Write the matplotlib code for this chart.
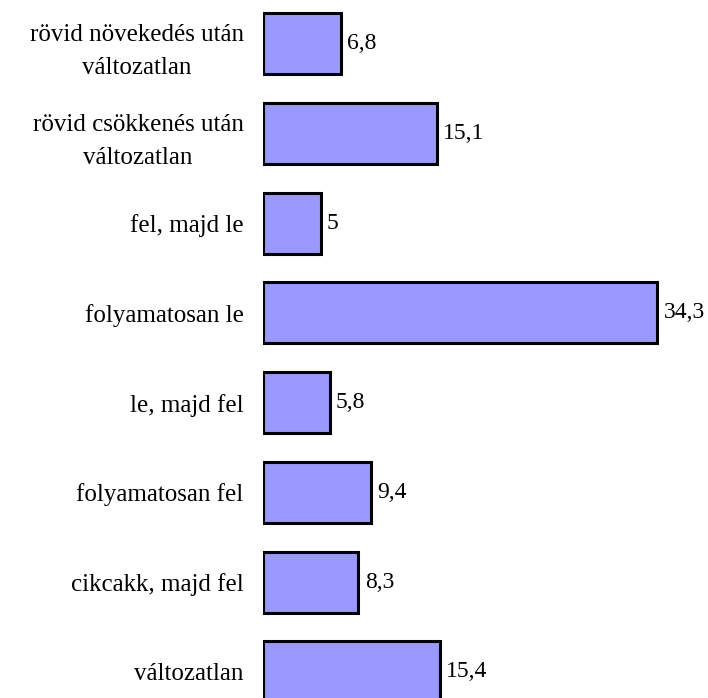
import matplotlib.pyplot as plt

categories = ["rövid növekedés után\nváltozatlan", "rövid csökkenés után\nváltozatlan",
              "fel, majd le", "folyamatosan le", "le, majd fel",
              "folyamatosan fel", "cikcakk, majd fel", "változatlan"]
values = [6.8, 15.1, 5, 34.3, 5.8, 9.4, 8.3, 15.4]
valueLabels = ["6,8", "15,1", "5", "34,3", "5,8", "9,4", "8,3", "15,4"]

plt.rcParams["font.family"] = ["Liberation Serif", "DejaVu Serif"]

fig = plt.figure(figsize=(7.08, 6.98), dpi=100)
ax = fig.add_axes([263 / 708, 0, 437 / 708, 1])   # plot area in figure fractions

positions = list(range(len(categories)))
ax.barh(positions, values, height=0.68, color="#9999FF", edgecolor="black", linewidth=2.2)

for pos, val, txt in zip(positions, values, valueLabels):
    ax.annotate(txt, (val, pos), xytext=(4.5, 0), textcoords="offset points",
                va="center", ha="left", fontsize=17)

ax.set_xlim(0, 38)
ax.set_ylim(7.29, -0.484)     # first category on top
ax.set_yticks(positions)
ax.set_yticklabels(categories, fontsize=18)
for lbl in ax.get_yticklabels():
    lbl.set_multialignment("center")
    lbl.set_linespacing(1.65)
ax.tick_params(axis="y", length=0, pad=14)
ax.set_xticks([])
for side in ax.spines.values():
    side.set_visible(False)

fig.savefig("out.png", dpi=100)
